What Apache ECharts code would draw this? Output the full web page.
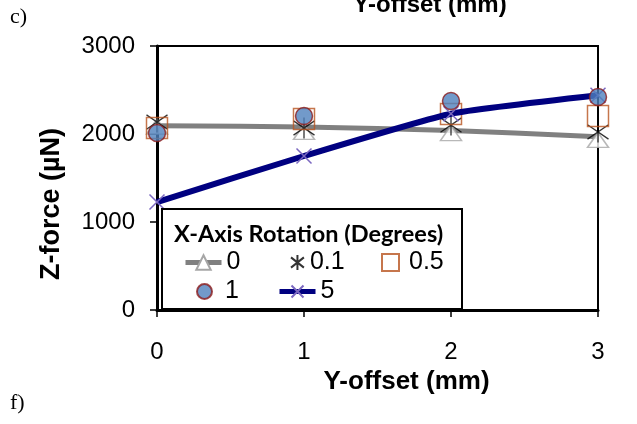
<!DOCTYPE html>
<html>
<head>
<meta charset="utf-8">
<script src="https://cdn.jsdelivr.net/npm/echarts@6/dist/echarts.min.js"></script>
<style>
  html, body { margin: 0; padding: 0; background: #fff; }
  #chart { width: 637px; height: 424px; }
</style>
</head>
<body>
<div id="chart"></div>
<script>
// Z-force against Y-offset for several X-axis rotations.

const xTicks = [0, 1, 2, 3];
const trend0 = [2095, 2080, 2040, 1970];
const rot0 = [2085, 2023, 2011, 1932];
const rot01 = [2136, 2068, 2102, 2023];
const rot05 = [2068, 2170, 2227, 2205];
const rot1 = [2011, 2205, 2375, 2420];
const rot5 = [1227, 1750, 2230, 2440];

const FONT = "Arial, 'Liberation Sans', sans-serif";
const ASTERISK = "path://M5,0L5,10M0.7,1.6L9.3,8.4M9.3,1.6L0.7,8.4";
const CROSS = "path://M0,0L10,10M10,0L0,10";

function pairs(values) {
  return values.map((v, i) => [xTicks[i], v]);
}

const chart = echarts.init(document.getElementById("chart"));

function legendAt(name, left, top, w, h, pad) {
  // One legend block per entry so they sit in the same grid as the original.
  return {
    data: [name],
    left: left,
    top: top,
    padding: 0,
    itemWidth: w,
    itemHeight: h,
    selectedMode: false,
    z: 20,
    lineStyle: { width: 5 },
    textStyle: { fontFamily: FONT, fontSize: 25, color: "#000", padding: [0, 0, 0, pad || 0] },
  };
}

chart.setOption({
  animation: false,
  grid: {
    left: 157, right: 39, top: 46, bottom: 114,
    show: true, borderColor: "#000", borderWidth: 2,
  },
  xAxis: {
    type: "value", min: 0, max: 3, interval: 1,
    name: "Y-offset (mm)",
    nameLocation: "middle",
    nameGap: 50,
    nameTextStyle: { fontFamily: FONT, fontSize: 26, fontWeight: "bold", color: "#000", padding: [0, 0, 0, 58] },
    axisLine: { lineStyle: { color: "#000", width: 3 } },
    axisTick: { length: 7, lineStyle: { color: "#000", width: 1.5 } },
    axisLabel: { fontFamily: FONT, fontSize: 24, color: "#000", margin: 30 },
    splitLine: { show: false },
  },
  yAxis: {
    type: "value", min: 0, max: 3000, interval: 1000,
    axisLine: { lineStyle: { color: "#000", width: 3 } },
    axisTick: { length: 7, lineStyle: { color: "#000", width: 1.5 } },
    axisLabel: { fontFamily: FONT, fontSize: 24, color: "#000", margin: 22, formatter: (v) => String(v) },
    splitLine: { show: false },
  },
  legend: [
    legendAt("0", 183, 250, 36, 18),
    legendAt("0.1", 290, 250, 15, 15),
    legendAt("0.5", 381, 250, 17, 17, 5),
    legendAt("1", 196, 279, 15, 15, 8),
    legendAt("5", 277, 279, 36, 15),
  ],
  graphic: [
    { type: "text", left: 10, top: 6,
      style: { text: "c)", font: "22px 'Liberation Serif', serif", fill: "#000" } },
    { type: "text", left: 10, top: 392,
      style: { text: "f)", font: "22px 'Liberation Serif', serif", fill: "#000" } },
    { type: "text", x: 430, y: 17,
      style: { text: "Y-offset (mm)", font: "bold 24px Arial, 'Liberation Sans', sans-serif",
        fill: "#000", textAlign: "center", textVerticalAlign: "bottom" } },
    { type: "text", x: 52, y: 204, rotation: Math.PI / 2,
      style: { text: "Z-force (\u00b5N)", font: "bold 27px Arial, 'Liberation Sans', sans-serif",
        fill: "#000", textAlign: "center", textVerticalAlign: "middle" } },
    { type: "rect", z: 10, shape: { x: 162, y: 209, width: 300, height: 100 },
      style: { fill: "#fff", stroke: "#000", lineWidth: 2 } },
    { type: "text", z: 11, x: 174, y: 234,
      style: { text: "X-Axis Rotation (Degrees)", font: "bold 23.5px Lato, 'Open Sans', sans-serif",
        fill: "#000", textVerticalAlign: "middle" } },
  ],
  series: [
    {
      name: "0", type: "line", smooth: 0.3, data: pairs(trend0),
      showSymbol: false, symbol: "triangle",
      lineStyle: { color: "#808080", width: 5 },
      itemStyle: { color: "#fff", borderColor: "#a6a6a6", borderWidth: 1.5 },
      z: 2,
    },
    {
      name: "0", type: "scatter", data: pairs(rot0),
      symbol: "triangle", symbolSize: [21, 15],
      itemStyle: { color: "#fff", borderColor: "#a6a6a6", borderWidth: 1.5 },
      clip: false, z: 3,
    },
    {
      name: "0.1", type: "scatter", data: pairs(rot01),
      symbol: ASTERISK, symbolSize: 21,
      itemStyle: { color: "rgba(0,0,0,0)", borderColor: "#000", borderWidth: 1.3 },
      clip: false, z: 4,
    },
    {
      name: "0.5", type: "scatter", data: pairs(rot05),
      symbol: "rect", symbolSize: 21,
      itemStyle: { color: "rgba(0,0,0,0)", borderColor: "#b8541f", borderWidth: 1.5 },
      clip: false, z: 5,
    },
    {
      name: "5", type: "line", smooth: 0.15, data: pairs(rot5),
      symbol: CROSS, symbolSize: 15, showSymbol: true,
      lineStyle: { color: "#000080", width: 6 },
      itemStyle: { color: "rgba(0,0,0,0)", borderColor: "#7b68c0", borderWidth: 1.5 },
      clip: false, z: 6,
    },
    {
      name: "1", type: "scatter", data: pairs(rot1),
      symbol: "circle", symbolSize: 17,
      itemStyle: { color: "#4f81bd", borderColor: "#8b1a1a", borderWidth: 1.5 },
      clip: false, z: 7,
    },
  ],
});
</script>
</body>
</html>
